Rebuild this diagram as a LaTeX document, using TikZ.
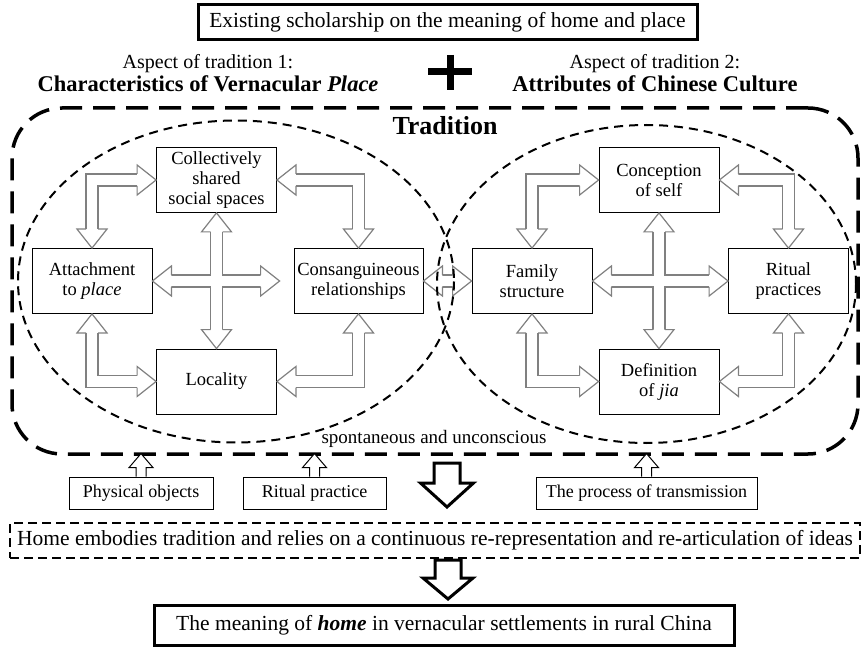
\documentclass[tikz,border=0pt]{standalone}
\usepackage{fontspec}
\setmainfont{Liberation Serif}
\usetikzlibrary{calc}

\tikzset{
  box/.style = {draw, line width=0.8pt, fill=white, minimum width=120pt,
    minimum height=65pt, align=center, inner sep=1pt,
    font=\fontsize{18.5}{20}\selectfont},
  srcbox/.style = {draw, line width=0.8pt, fill=white, minimum height=32pt,
    inner sep=0pt, font=\fontsize{18}{20}\selectfont},
  mainbox/.style = {draw, line width=3pt, inner sep=0pt,
    font=\fontsize{21.5}{22}\selectfont},
  dashbox/.style = {draw, line width=2.5pt, dash pattern=on 9pt off 5pt,
    inner sep=0pt, font=\fontsize{21.5}{22}\selectfont},
  tradbox/.style = {draw, line width=3.5pt, dash pattern=on 22pt off 11pt,
    rounded corners=50pt, minimum width=846pt, minimum height=346pt},
  group/.style = {draw, line width=2pt, dash pattern=on 9pt off 6pt},
  aspect/.style = {align=center, font=\fontsize{20}{23}\selectfont},
  shaftout/.style = {draw=gray, line width=13.2pt, line join=miter,
    shorten <=19pt, shorten >=19pt},
  shaftin/.style = {draw=white, line width=10.8pt, line join=miter,
    shorten <=19pt, shorten >=19pt},
  headline/.style = {draw=gray, fill=white, line width=1.2pt, line join=miter},
  smallarr/.style = {draw, fill=white, line width=1pt, line join=miter},
  bigarr/.style = {draw, fill=white, line width=3pt, line join=miter},
}

% hollow head with its tip at #1, coming from #2
\newcommand\headto[2]{%
  \coordinate (ht) at (#1);
  \coordinate (hb) at ($(#1)!19pt!(#2)$);
  \filldraw[headline] ($(hb)!6pt!90:(ht)$) -- ($(hb)!15pt!90:(ht)$) -- (ht)
    -- ($(hb)!15pt!-90:(ht)$) -- ($(hb)!6pt!-90:(ht)$);
}

\begin{document}
\begin{tikzpicture}[x=1pt, y=-1pt]
    \useasboundingbox (0,0) rectangle (868,647);
    % Sources
    \node [mainbox, minimum width=499pt, minimum height=35pt] (lit) at (447.5,22.5)
        {Existing scholarship on the meaning of home and place};
    \node [aspect] (asp1) at (208,73.5)
        {Aspect of tradition 1:\\ {\fontsize{22.5}{23}\selectfont\bfseries Characteristics of Vernacular \textit{Place}}};
    \node [aspect] (asp2) at (655,73.5)
        {Aspect of tradition 2:\\ {\fontsize{22.5}{23}\selectfont\bfseries Attributes of Chinese Culture}};
    \draw [line width=7pt] (428,72) -- (472,72) (450,55) -- (450,90);

    % Tradition
    \node [tradbox] (trad) at (435,281) {};
    \node [anchor=base, font=\bfseries\fontsize{26}{26}\selectfont] (tradlabel) at (445,135) {Tradition};
    \node [anchor=base, font=\fontsize{19}{20}\selectfont] (spont) at (434,443)
        {spontaneous and unconscious};
    %% Vernacular place
    \node [box] (col) at (216.5,180) {Collectively\\shared\\social spaces};
    \node [box] (att) at (92,281) {Attachment\\to \textit{place}};
    \node [box, minimum width=129pt] (con) at (358.5,281) {Consanguineous\\relationships};
    \node [box] (loc) at (216.5,381.5) {Locality};
    %% Chinese culture
    \node [box] (cos) at (659,180) {Conception\\of self};
    \node [box] (fam) at (532,281) {Family\\structure};
    \node [box] (rit) at (788.5,281) {Ritual\\practices};
    \node [box] (jia) at (659,381.5) {Definition\\of \textit{jia}};

    %% Block arrows
    \coordinate (lc1) at (att.north |- col.west);
    \coordinate (lc2) at (con.north |- col.east);
    \coordinate (lc3) at (att.south |- loc.west);
    \coordinate (lc4) at (con.south |- loc.east);
    \coordinate (lend) at ($(con.west)+(-14,0)$);
    \coordinate (rc1) at (fam.north |- cos.west);
    \coordinate (rc2) at (rit.north |- cos.east);
    \coordinate (rc3) at (fam.south |- jia.west);
    \coordinate (rc4) at (rit.south |- jia.east);
    \def\shafts{
        \path [arr] (att.north) -- (lc1) -- (col.west);
        \path [arr] (col.east) -- (lc2) -- (con.north);
        \path [arr] (att.south) -- (lc3) -- (loc.west);
        \path [arr] (loc.east) -- (lc4) -- (con.south);
        \path [arr] (col.south) -- (loc.north);
        \path [arr] (att.east) -- (lend);
        \path [arr] (con.east) -- (fam.west);
        \path [arr] (fam.north) -- (rc1) -- (cos.west);
        \path [arr] (cos.east) -- (rc2) -- (rit.north);
        \path [arr] (fam.south) -- (rc3) -- (jia.west);
        \path [arr] (jia.east) -- (rc4) -- (rit.south);
        \path [arr] (cos.south) -- (jia.north);
        \path [arr] (fam.east) -- (rit.west);
    }
    \begin{scope}[arr/.style=shaftout] \shafts \end{scope}
    \begin{scope}[arr/.style=shaftin] \shafts \end{scope}
    \foreach \tp/\fp in {att.north/lc1, col.west/lc1, col.east/lc2, con.north/lc2,
        att.south/lc3, loc.west/lc3, loc.east/lc4, con.south/lc4,
        col.south/loc.north, loc.north/col.south, att.east/lend, lend/att.east,
        con.east/fam.west, fam.west/con.east,
        fam.north/rc1, cos.west/rc1, cos.east/rc2, rit.north/rc2,
        fam.south/rc3, jia.west/rc3, jia.east/rc4, rit.south/rc4,
        cos.south/jia.north, jia.north/cos.south, fam.east/rit.west, rit.west/fam.east}
        \headto{\tp}{\fp};

    %% Groups
    \draw [group] (236,281.5) ellipse [x radius=218, y radius=161];
    \draw [group] (646.5,284) ellipse [x radius=209.5, y radius=159];

    % Transmission
    \node [srcbox, minimum width=144pt] (phy) at (141,493) {Physical objects};
    \node [srcbox, minimum width=143pt] (rp) at (314.5,493) {Ritual practice};
    \node [srcbox, minimum width=221pt] (tra) at (646.5,493) {The process of transmission};
    \foreach \n in {phy, rp, tra}
        \draw [smallarr] ($(\n.north)+(-5,0)$) -- ++(0,-9) -- ++(-7,0) -- ++(12,-14)
            -- ++(12,14) -- ++(-7,0) -- ++(0,9);
    \coordinate (down1) at (447,463);
    \draw [bigarr] (down1) ++(-13,0) -- ++(0,20) -- ++(-13.5,0) -- ++(26.5,24)
        -- ++(26.5,-24) -- ++(-13.5,0) -- ++(0,-20) -- cycle;

    % Outcome
    \node [dashbox, minimum width=850pt, minimum height=35pt] (emb) at (435,540.5)
        {Home embodies tradition and relies on a continuous re-representation and re-articulation of ideas};
    \coordinate (down2) at (448,560);
    \draw [bigarr] (down2) ++(-13,0) -- ++(0,18) -- ++(-12,0) -- ++(25,21)
        -- ++(25,-21) -- ++(-12,0) -- ++(0,-18) -- cycle;
    \node [mainbox, minimum width=580pt, minimum height=40pt] (mean) at (444,625)
        {The meaning of \textbf{\textit{home}} in vernacular settlements in rural China};
\end{tikzpicture}
\end{document}
